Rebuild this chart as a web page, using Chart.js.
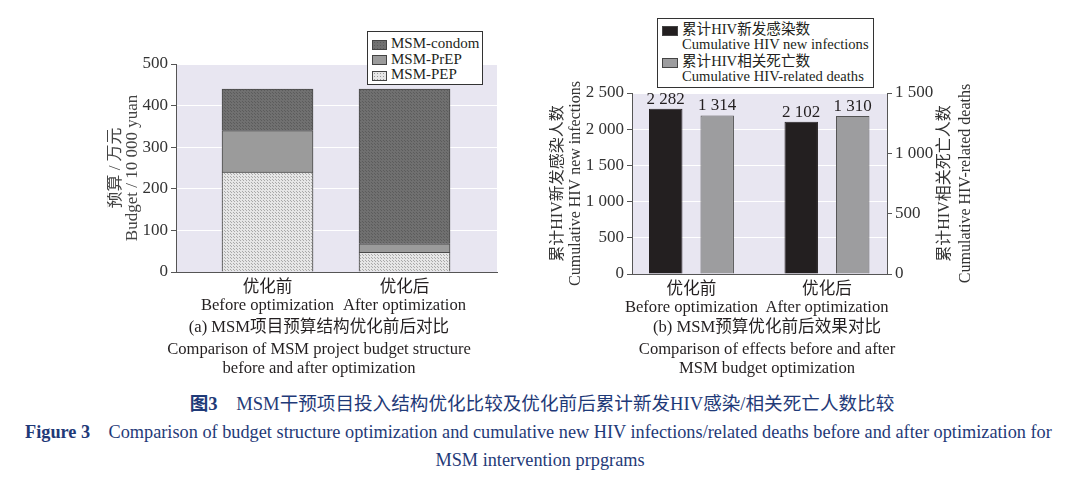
<!DOCTYPE html>
<html>
<head>
<meta charset="utf-8">
<script src="https://cdn.jsdelivr.net/npm/chart.js@4/dist/chart.umd.min.js"></script>
<style>
  body { margin: 0; background: #fff; width: 1080px; height: 487px; position: relative; overflow: hidden;
         font-family: "Liberation Serif", "Noto Sans CJK SC", serif; color: #231f20; }
  .abs { position: absolute; }
  #wrapA { left: 107px; top: 20px; width: 398px; height: 300px; }
  #wrapB { left: 549px; top: 10px; width: 441px; height: 310px; }
  .legend { position: absolute; border: 1px solid #333; background: #fff; }
  .sw { display: inline-block; border: 1px solid #444; vertical-align: middle; }
  .cap { position: absolute; text-align: center; font-size: 16.6px; white-space: nowrap; line-height: 18px; }
  .fig { position: absolute; white-space: nowrap; color: #1f3a78; }
</style>
</head>
<body>

<div class="abs" id="wrapA"><canvas id="chartA"></canvas></div>
<div class="abs" id="wrapB"><canvas id="chartB"></canvas></div>

<div class="legend" id="legendA" style="left:367px; top:31px; width:114px; height:52px;"></div>
<div class="legend" id="legendB" style="left:657px; top:18px; width:215px; height:68px;"></div>

<div class="cap" style="left:119px; top:318px; width:400px;">(a) MSM项目预算结构优化前后对比</div>
<div class="cap" style="left:119px; top:340px; width:400px;">Comparison of MSM project budget structure</div>
<div class="cap" style="left:119px; top:359px; width:400px;">before and after optimization</div>

<div class="cap" style="left:567px; top:318px; width:400px;">(b) MSM预算优化前后效果对比</div>
<div class="cap" style="left:567px; top:340px; width:400px;">Comparison of effects before and after</div>
<div class="cap" style="left:567px; top:359px; width:400px;">MSM budget optimization</div>

<div class="fig" style="left:0; width:1084px; text-align:center; top:388px; font-size:18.6px;"><b>图3</b>&nbsp;&nbsp;&nbsp;&nbsp;MSM干预项目投入结构优化比较及优化前后累计新发HIV感染/相关死亡人数比较</div>
<div class="fig" style="left:25px; top:422px; font-size:18.3px;"><b>Figure 3</b>&nbsp;&nbsp;&nbsp;&nbsp;Comparison of budget structure optimization and cumulative new HIV infections/related deaths before and after optimization for</div>
<div class="fig" style="left:0; width:1080px; text-align:center; top:450px; font-size:18.3px;">MSM intervention prpgrams</div>

<script>
// categories
const catZh = ['优化前', '优化后'];
const catEn = ['Before optimization', 'After optimization'];

// (a) budget, 10 000 yuan
const budgetNames = ['MSM-condom', 'MSM-PrEP', 'MSM-PEP'];
const condomBudget = [100, 372];
const prepBudget = [100, 21];
const pepBudget = [240, 47];
const budgetTicks = [0, 100, 200, 300, 400, 500];

// (b) effects
const effectZh = ['累计HIV新发感染数', '累计HIV相关死亡数'];
const effectEn = ['Cumulative HIV new infections', 'Cumulative HIV-related deaths'];
const axisZh = ['累计HIV新发感染人数', '累计HIV相关死亡人数'];
const newInfections = [2282, 2102];
const hivDeaths = [1314, 1310];
const infectionTicks = [0, 500, 1000, 1500, 2000, 2500];
const deathTicks = [0, 500, 1000, 1500];

const SERIF = '"Liberation Serif", "Noto Sans CJK SC", serif';
const PLOT_BG = '#e8e6f1';

function fmt(v) {
  return String(v).replace(/\B(?=(\d{3})+(?!\d))/g, ' ');
}

// little textures for the stacked bars
function makePattern(bg, dot, size) {
  const c = document.createElement('canvas');
  c.width = c.height = size;
  const g = c.getContext('2d');
  g.fillStyle = bg;
  g.fillRect(0, 0, size, size);
  g.fillStyle = dot;
  g.fillRect(0, 0, 1, 1);
  g.fillRect(Math.floor(size / 2), Math.floor(size / 2), 1, 1);
  return g.createPattern(c, 'repeat');
}
const pepFill = makePattern('#e6e6e6', '#a9a9a9', 3);
const prepFill = '#9b9b9b';
const condomFill = makePattern('#707070', '#5c5c5c', 3);

const plotBackground = {
  id: 'plotBackground',
  beforeDraw(chart) {
    const { ctx, chartArea: a } = chart;
    ctx.save();
    ctx.fillStyle = PLOT_BG;
    ctx.fillRect(a.left, a.top, a.right - a.left, a.bottom - a.top);
    ctx.restore();
  }
};

const barLabels = {
  id: 'barLabels',
  afterDatasetsDraw(chart) {
    const { ctx } = chart;
    ctx.save();
    ctx.font = '17px ' + SERIF;
    ctx.fillStyle = '#231f20';
    ctx.textAlign = 'center';
    ctx.textBaseline = 'bottom';
    chart.data.datasets.forEach((ds, i) => {
      chart.getDatasetMeta(i).data.forEach((bar, j) => {
        ctx.fillText(fmt(newOrDeath(ds, j)), bar.x, bar.y - 1);
      });
    });
    ctx.restore();
  }
};
function newOrDeath(ds, j) {
  const d = ds.data[j];
  return typeof d === 'object' ? d.y : d;
}

// right-hand title reads bottom-to-top like the left one
const rightTitle = {
  id: 'rightTitle',
  afterDraw(chart) {
    const { ctx, chartArea: a } = chart;
    const s = chart.scales.y1;
    const cy = (a.top + a.bottom) / 2;
    ctx.save();
    ctx.font = '16px ' + SERIF;
    ctx.fillStyle = '#333';
    ctx.textAlign = 'center';
    ctx.textBaseline = 'middle';
    [axisZh[1], effectEn[1]].forEach((t, i) => {
      ctx.save();
      ctx.translate(s.left + 58 + i * 21, cy);
      ctx.rotate(-Math.PI / 2);
      ctx.fillText(t, 0, 0);
      ctx.restore();
    });
    ctx.restore();
  }
};

Chart.defaults.font.family = SERIF;
Chart.defaults.color = '#333';
Chart.defaults.animation = false;

const catTicks = {
  font: { size: 16.6, lineHeight: 1.05 }, color: '#231f20', padding: 7, maxRotation: 0, autoSkip: false,
  callback: (v) => [catZh[v], catEn[v]]
};

// ---- chart (a)
new Chart(document.getElementById('chartA'), {
  type: 'bar',
  data: {
    datasets: [
      { label: budgetNames[2], data: pepBudget.map((v, i) => ({ x: i, y: v })), backgroundColor: pepFill },
      { label: budgetNames[1], data: prepBudget.map((v, i) => ({ x: i, y: v })), backgroundColor: prepFill },
      { label: budgetNames[0], data: condomBudget.map((v, i) => ({ x: i, y: v })), backgroundColor: condomFill }
    ]
  },
  options: {
    responsive: true,
    maintainAspectRatio: false,
    layout: { padding: { top: 44, right: 8, left: 0, bottom: 0 } },
    datasets: { bar: { barThickness: 91, borderColor: '#4a4a4a', borderWidth: 1 } },
    plugins: { legend: { display: false }, tooltip: { enabled: false } },
    scales: {
      x: {
        type: 'linear',
        offset: false,
        stacked: true,
        min: -0.668,
        max: 1.675,
        afterBuildTicks: (scale) => { scale.ticks = catZh.map((_, i) => ({ value: i })); },
        afterFit: (scale) => { scale.height = 48; },
        ticks: catTicks,
        grid: { display: false, drawTicks: false },
        border: { color: '#555' }
      },
      y: {
        stacked: true,
        min: 0,
        max: 500,
        afterBuildTicks: (scale) => { scale.ticks = budgetTicks.map(v => ({ value: v })); },
        afterFit: (scale) => { scale.width = 69; },
        ticks: { font: { size: 17 }, color: '#333', padding: 3 },
        grid: { color: '#ffffff', tickColor: '#555', tickLength: 5 },
        border: { color: '#555' },
        title: { display: true, text: ['预算 / 万元', 'Budget / 10 000 yuan'], font: { size: 17, lineHeight: 1.0 }, color: '#444', padding: 0 }
      }
    }
  },
  plugins: [plotBackground]
});

// ---- chart (b)
new Chart(document.getElementById('chartB'), {
  type: 'bar',
  data: {
    datasets: [
      { label: effectEn[0], data: newInfections.map((v, i) => ({ x: i, y: v })), yAxisID: 'y',
        backgroundColor: '#231f20', borderColor: '#231f20' },
      { label: effectEn[1], data: hivDeaths.map((v, i) => ({ x: i, y: v })), yAxisID: 'y1',
        backgroundColor: '#9d9d9f', borderColor: '#555' }
    ]
  },
  options: {
    responsive: true,
    maintainAspectRatio: false,
    layout: { padding: { top: 83, right: 0, left: 0, bottom: 0 } },
    datasets: { bar: { categoryPercentage: 0.76, barPercentage: 0.65, borderWidth: 1 } },
    plugins: { legend: { display: false }, tooltip: { enabled: false } },
    scales: {
      x: {
        type: 'linear',
        offset: false,
        min: -0.439,
        max: 1.443,
        afterBuildTicks: (scale) => { scale.ticks = catZh.map((_, i) => ({ value: i })); },
        afterFit: (scale) => { scale.height = 46; },
        ticks: catTicks,
        grid: { display: false, drawTicks: false },
        border: { color: '#555' }
      },
      y: {
        position: 'left',
        min: 0,
        max: 2500,
        afterBuildTicks: (scale) => { scale.ticks = infectionTicks.map(v => ({ value: v })); },
        afterFit: (scale) => { scale.width = 83; },
        ticks: { font: { size: 17 }, color: '#333', padding: 3, callback: (v) => fmt(v) },
        grid: { color: '#ffffff', tickColor: '#555', tickLength: 5 },
        border: { color: '#555' },
        title: { display: true, text: [axisZh[0], effectEn[0]], font: { size: 16, lineHeight: 1.1 }, color: '#333', padding: 0 }
      },
      y1: {
        position: 'right',
        min: 0,
        max: 1500,
        afterBuildTicks: (scale) => { scale.ticks = deathTicks.map(v => ({ value: v })); },
        afterFit: (scale) => { scale.width = 103; },
        ticks: { font: { size: 17 }, color: '#333', padding: 3, callback: (v) => fmt(v) },
        grid: { drawOnChartArea: false, tickColor: '#555', tickLength: 5 },
        border: { color: '#555' }
      }
    }
  },
  plugins: [plotBackground, barLabels, rightTitle]
});

// ---- HTML legends built from the series names
const legA = document.getElementById('legendA');
const swatchA = [
  'background:#707070; background-image:radial-gradient(#5c5c5c 0.7px, transparent 0.8px); background-size:3px 3px;',
  'background:#9b9b9b;',
  'background:#e6e6e6; background-image:radial-gradient(#999 0.7px, transparent 0.8px); background-size:3px 3px;'
];
budgetNames.forEach((n, i) => {
  const row = document.createElement('div');
  row.style.cssText = 'position:absolute; left:4px; top:' + (3 + i * 15.5) + 'px; font-size:15px; line-height:16px; white-space:nowrap;';
  row.innerHTML = '<span class="sw" style="width:13px; height:8px; margin-right:4px; ' + swatchA[i] + '"></span>' + n;
  legA.appendChild(row);
});

const legB = document.getElementById('legendB');
const swatchB = ['background:#231f20;', 'background:#9d9d9f;'];
effectZh.forEach((z, i) => {
  const row = document.createElement('div');
  row.style.cssText = 'position:absolute; left:4px; top:' + (3 + i * 32) + 'px; font-size:14.6px; line-height:15px; white-space:nowrap;';
  row.innerHTML = '<span class="sw" style="width:14px; height:8px; margin-right:4px; ' + swatchB[i] + '"></span>' + z +
    '<br><span style="margin-left:20px;">' + effectEn[i] + '</span>';
  legB.appendChild(row);
});
</script>
</body>
</html>
